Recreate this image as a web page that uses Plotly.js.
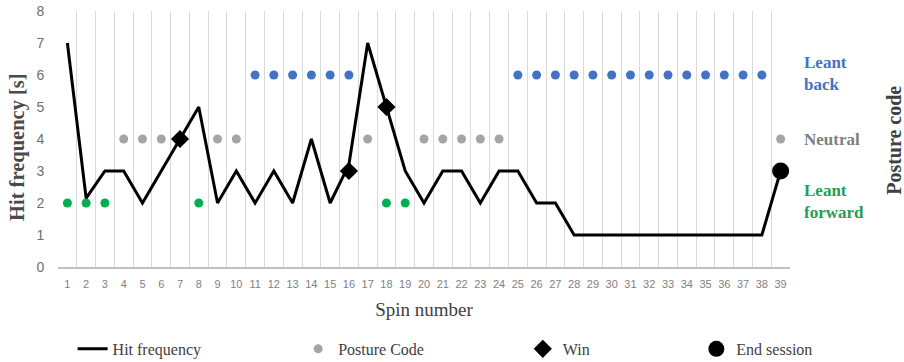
<!DOCTYPE html>
<html>
<head>
<meta charset="utf-8">
<script src="https://cdn.plot.ly/plotly-3.0.1.min.js"></script>
<style>html,body{margin:0;padding:0;background:#fff;}#chart{width:904px;height:362px;}</style>
</head>
<body>
<div id="chart"></div>
<script>
// ---- data ----
const spins = Array.from({length: 39}, (_, i) => i + 1);
const hitFrequency = [7, 2.15, 3, 3, 2, 3, 4, 5, 2, 3, 2, 3, 2, 4, 2, 3.2, 7, 5, 3, 2, 3, 3, 2, 3, 3, 2, 2, 1, 1, 1, 1, 1, 1, 1, 1, 1, 1, 1, 3];
// posture code per spin: 2 = leant forward, 4 = neutral, 6 = leant back
const postureCode = [2, 2, 2, 4, 4, 4, 4, 2, 4, 4, 6, 6, 6, 6, 6, 6, 4, 2, 2, 4, 4, 4, 4, 4, 6, 6, 6, 6, 6, 6, 6, 6, 6, 6, 6, 6, 6, 6, 4];
const winSpins = [7, 16, 18];
const winValues = [4, 3, 5];
const endSpins = [39];
const endValues = [3];
const postureLabels = ["Leant back", "Neutral", "Leant forward"];
const postureLevels = [6, 4, 2];
const postureColors = {2: "#00B050", 4: "#A5A5A5", 6: "#4472C4"};
const labelColors = ["#4472C4", "#7F7F7F", "#1FA050"];

function pick(code) {
  const xs = [], ys = [];
  spins.forEach((s, i) => { if (postureCode[i] === code) { xs.push(s); ys.push(code); } });
  return {xs, ys};
}

const serif = "Liberation Serif, Times New Roman, serif";
const sans = "Liberation Sans, Arial, sans-serif";

const traces = [];
[4, 2, 6].forEach((code) => {
  const p = pick(code);
  traces.push({
    x: p.xs, y: p.ys, type: "scatter", mode: "markers",
    name: "Posture Code",
    marker: {color: postureColors[code], size: 9},
    showlegend: code === 4,
    legend: "legend2",
    hoverinfo: "x+y"
  });
});
traces.push({
  x: spins, y: hitFrequency, type: "scatter", mode: "lines",
  name: "Hit frequency", line: {color: "#000", width: 3},
  legend: "legend"
});
traces.push({
  x: winSpins, y: winValues, type: "scatter", mode: "markers",
  name: "Win", marker: {symbol: "diamond", color: "#000", size: 14},
  legend: "legend3"
});
traces.push({
  x: endSpins, y: endValues, type: "scatter", mode: "markers",
  name: "End session", marker: {symbol: "circle", color: "#000", size: 17},
  legend: "legend4"
});

const legendBase = {
  orientation: "h", yanchor: "middle", xanchor: "left",
  xref: "container", yref: "container", y: 0.036,
  font: {family: serif, size: 16, color: "#404040"},
  bgcolor: "rgba(0,0,0,0)", itemsizing: "trace"
};

const annotations = postureLabels.map((t, i) => ({
  text: "<b>" + t.replace(" ", "<br>") + "</b>",
  xref: "paper", yref: "y", x: 1.016, y: postureLevels[i] + (i === 1 ? 0 : 0.05),
  xanchor: "left", yanchor: "middle", align: "left", showarrow: false,
  font: {family: serif, size: 17, color: labelColors[i]}
}));
annotations.push({
  text: "<b>Posture code</b>", xref: "paper", yref: "y", x: 1.141, y: 3.95,
  xanchor: "center", yanchor: "middle", textangle: -90, showarrow: false,
  font: {family: serif, size: 20, color: "#404040"}
});
// y-axis title, placed as in the reference (slightly below centre)
annotations.push({
  text: "<b>Hit frequency [s]</b>", xref: "paper", yref: "y", x: -0.056, y: 3.75,
  xanchor: "center", yanchor: "middle", textangle: -90, showarrow: false,
  font: {family: serif, size: 20.5, color: "#4A4A4A"}
});

const layout = {
  width: 904, height: 362,
  margin: {l: 58, r: 114, t: 11, b: 95},
  paper_bgcolor: "#fff", plot_bgcolor: "#fff",
  showlegend: true,
  xaxis: {
    range: [0.5, 39.5], tickmode: "linear", tick0: 1, dtick: 1,
    showgrid: false, zeroline: false,
    showline: true, linecolor: "#BFBFBF", linewidth: 2,
    ticks: "outside", ticklen: 6, tickcolor: "rgba(0,0,0,0)",
    tickfont: {family: sans, size: 11, color: "#7F7F7F"},
    minor: {tick0: 0.5, dtick: 1, showgrid: true, gridcolor: "#D9D9D9", gridwidth: 1, ticks: ""},
    title: {text: "Spin number", font: {family: serif, size: 19, color: "#404040"}, standoff: 13}
  },
  yaxis: {
    range: [0, 8], tickmode: "linear", tick0: 0, dtick: 1,
    showgrid: false, zeroline: false, showline: false,
    ticks: "outside", ticklen: 10, tickcolor: "rgba(0,0,0,0)",
    tickfont: {family: sans, size: 14, color: "#6F6F6F"}
  },
  legend: Object.assign({}, legendBase, {x: 0.0803}),
  legend2: Object.assign({}, legendBase, {x: 0.3298}),
  legend3: Object.assign({}, legendBase, {x: 0.5783}),
  legend4: Object.assign({}, legendBase, {x: 0.7703}),
  annotations: annotations
};

Plotly.newPlot("chart", traces, layout, {displayModeBar: false, staticPlot: true});
</script>
</body>
</html>
